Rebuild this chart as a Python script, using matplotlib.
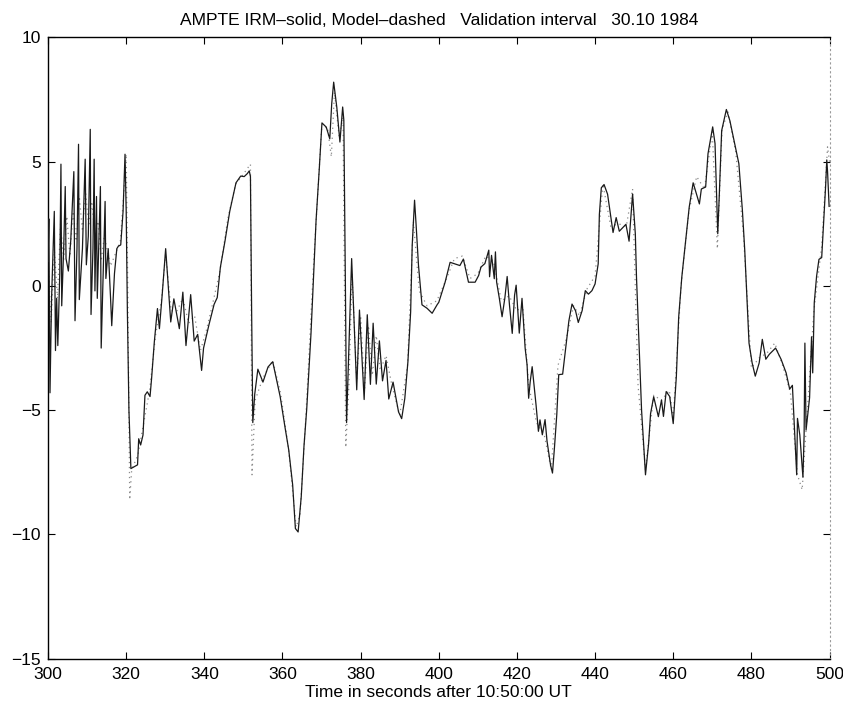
"""
AMPTE IRM magnetometer data vs. model, validation interval 30.10.1984.
"""

import matplotlib
matplotlib.use('Agg')  # Non-interactive backend
import matplotlib.pyplot as plt

# Axis ticks
x_ticks = [300, 320, 340, 360, 380, 400, 420, 440, 460, 480, 500]
y_ticks = [-15, -10, -5, 0, 5, 10]

irm_t_300 = [300.0, 300.2, 300.5, 300.9, 301.6, 301.9, 302.2, 302.5, 303.0, 303.3,
             303.5, 304.0, 304.4, 304.6, 305.2, 305.8, 306.6, 306.9, 307.4, 307.8,
             308.0, 308.8, 309.5, 309.8, 310.3, 310.8, 311.0, 311.5, 311.8, 312.0,
             312.4, 312.6, 313.4, 313.6, 314.2, 314.6, 314.8, 315.4, 316.0, 316.3,
             317.0, 317.6, 318.0, 318.6, 319.2, 319.7, 320.0, 320.3, 320.7, 321.2]
irm_v_300 = [1.0, 2.7, -4.3, -0.5, 3.0, -2.6, -0.5, -2.4, 0.5, 4.9,
             -0.8, 1.5, 4.0, 1.1, 0.6, 1.8, 4.6, -1.4, 1.5, 5.7,
             -0.55, 1.5, 5.1, 0.85, 2.0, 6.3, -1.15, 1.5, 5.1, -0.2,
             3.6, -0.5, 4.0, -2.5, 1.0, 3.4, 0.3, 1.5, -0.5, -1.6,
             0.5, 1.5, 1.6, 1.65, 3.0, 5.3, 3.0, -1.0, -5.0, -7.35]

irm_t_322 = [322.9, 323.2, 323.7, 324.3, 324.8, 325.4, 326.1, 326.5, 327.2, 328.0,
             328.5, 329.2, 330.1, 331.4, 332.2, 333.6, 334.5, 335.3, 336.5, 337.4,
             338.3, 339.3, 339.8, 341.2, 342.5, 343.3, 344.1, 345.3, 346.5, 348.1,
             349.3, 350.2, 351.0, 351.5, 351.8]
irm_v_322 = [-7.2, -6.15, -6.4, -6.0, -4.4, -4.26, -4.45, -3.72, -2.25, -0.91,
             -1.72, -0.38, 1.5, -1.45, -0.52, -1.72, -0.25, -2.4, -0.35, -2.22,
             -1.95, -3.4, -2.5, -1.55, -0.74, -0.47, 0.75, 1.82, 3.0, 4.15,
             4.42, 4.4, 4.52, 4.63, 4.4]

irm_t_352 = [352.1, 352.4, 352.9, 353.7, 355.0, 356.3, 357.5, 359.4, 360.7, 361.6,
             362.6, 363.3, 364.0, 364.8, 365.5, 366.2, 367.3, 368.6, 369.4, 370.1,
             371.2, 372.1, 372.6, 373.1, 373.9, 374.7, 375.4, 375.7]
irm_v_352 = [-1.0, -5.5, -4.35, -3.35, -3.87, -3.26, -3.05, -4.45, -5.74, -6.6,
             -8.0, -9.76, -9.9, -8.48, -6.45, -4.96, -1.9, 2.65, 4.67, 6.56,
             6.39, 5.92, 7.33, 8.2, 7.19, 5.79, 7.2, 6.67]

irm_t_376 = [376.1, 376.4, 377.7, 379.0, 379.7, 380.9, 381.7, 382.5, 383.2, 384.0,
             384.8, 385.6, 386.5, 387.2, 388.3, 389.7, 390.5, 391.3, 392.1, 392.8,
             393.2, 393.8, 394.2, 394.8, 395.7, 397.0, 398.3, 399.6]
irm_v_376 = [0.0, -5.5, 1.1, -4.18, -0.97, -4.57, -1.16, -3.96, -1.5, -3.95,
             -2.21, -3.82, -3.0, -4.55, -3.87, -5.07, -5.34, -4.53, -3.05, -1.04,
             1.64, 3.45, 2.45, 0.84, -0.76, -0.9, -1.1, -0.75]

irm_t_400 = [400.0, 401.6, 402.9, 404.2, 405.4, 406.3, 407.6, 409.3, 410.2, 410.8,
             411.8, 412.8, 413.0, 413.5, 414.2, 414.5, 414.8, 415.5, 416.2, 416.9,
             417.5, 418.1, 418.8, 419.4, 419.8, 420.6, 421.3, 422.1, 422.6, 423.0,
             423.4, 423.9, 424.9, 425.5, 425.9, 426.5, 427.2, 427.7, 428.6, 429.1,
             429.6, 430.2, 430.7, 431.7, 432.5, 433.3, 434.1, 435.0, 435.7, 436.7,
             437.5, 438.3, 439.2, 440.0, 440.8, 441.1, 441.6, 442.3, 443.2, 444.6,
             445.4, 446.2, 447.9, 448.7, 449.6, 450.3, 450.6, 451.9, 452.9]
irm_v_400 = [-0.66, 0.14, 0.95, 0.88, 0.82, 1.08, 0.15, 0.15, 0.42, 0.76,
             0.9, 1.44, 0.37, 1.23, 0.29, 1.37, 0.16, -0.5, -1.24, -0.5,
             0.38, -0.78, -1.91, -0.37, 0.03, -1.9, -0.5, -2.5, -3.18, -4.52,
             -3.85, -3.25, -4.8, -5.85, -5.39, -5.99, -5.38, -6.24, -7.2, -7.53,
             -6.52, -5.18, -3.57, -3.55, -2.48, -1.4, -0.73, -1.0, -1.47, -0.99,
             -0.19, -0.33, -0.19, 0.08, 0.89, 2.88, 3.95, 4.08, 3.69, 2.15,
             2.75, 2.2, 2.48, 1.8, 3.7, 2.1, 0.35, -5.0, -7.6]

irm_t_453 = [453.7, 454.2, 455.0, 456.2, 457.0, 457.5, 458.2, 459.1, 460.0, 460.8,
             461.4, 462.2, 463.1, 464.1, 465.1, 466.7, 467.2, 468.3, 468.9, 470.1,
             470.7, 471.4, 471.8, 472.4, 473.6, 474.5, 475.4, 476.8, 477.7, 478.3,
             479.4, 480.2, 481.0, 482.0, 482.8, 483.7, 484.6, 486.2, 487.6, 488.9,
             489.8, 490.5, 491.2, 491.6, 491.8, 492.4, 493.2, 493.5, 493.7, 494.0,
             494.9, 495.4, 495.7, 496.1, 496.7, 497.3, 498.0, 498.5, 499.0, 499.3,
             499.5, 499.9]
irm_v_453 = [-6.35, -5.14, -4.46, -5.26, -4.59, -5.25, -4.25, -4.45, -5.54, -3.65,
             -1.25, 0.36, 1.7, 3.18, 4.15, 3.3, 3.9, 3.98, 5.32, 6.4,
             5.73, 2.1, 3.7, 6.25, 7.1, 6.65, 5.98, 4.92, 3.05, 1.45,
             -2.3, -3.1, -3.63, -3.1, -2.15, -2.95, -2.75, -2.5, -2.95, -3.5,
             -4.15, -4.0, -6.3, -7.6, -5.33, -6.0, -7.7, -6.0, -2.3, -5.8,
             -4.5, -2.05, -3.5, -0.67, 0.4, 1.07, 1.14, 2.55, 4.0, 5.07,
             4.6, 3.2]

# Model (dashed), mostly hidden under the measurement
model_t_a = [300.0, 300.8, 301.6, 302.4, 303.2, 304.0, 304.8, 305.6, 306.4, 307.2,
             308.0, 308.8, 309.6, 310.4, 311.2, 312.0, 312.8, 313.6, 314.4, 315.2,
             316.0, 317.0, 318.5, 319.5, 320.0, 320.4, 320.9, 321.4, 323.0, 324.5,
             326.0, 327.5, 329.0, 330.1, 331.5, 333.0, 334.5, 336.0, 337.5, 339.0,
             340.5, 342.0, 344.0, 346.0, 348.0, 350.0, 351.8, 352.2, 353.0, 355.0,
             357.5, 359.5, 361.5, 363.5, 364.5, 366.0, 368.0, 370.0, 371.5, 372.5,
             373.3, 374.5, 375.5, 376.2]
model_v_a = [1.0, -1.5, 1.5, -0.5, 2.5, 1.0, 2.8, 1.2, 3.0, 1.8,
             3.6, 2.2, 3.8, 2.4, 3.4, 2.0, 2.6, 1.0, 2.0, 1.4,
             0.8, 1.2, 1.8, 4.0, 5.3, 0.0, -8.6, -7.4, -6.8, -5.5,
             -4.2, -2.0, -0.6, 1.3, -1.0, -1.0, -0.5, -1.5, -1.2, -2.6,
             -1.8, -0.8, 0.6, 2.7, 4.1, 4.5, 4.9, -7.6, -4.6, -3.7,
             -3.0, -4.3, -6.5, -9.7, -9.2, -5.2, 1.0, 6.3, 6.4, 5.2,
             7.8, 6.0, 6.8, -6.5]

model_t_b = [377.0, 377.8, 379.0, 380.0, 381.0, 382.0, 383.0, 384.0, 385.0, 386.5,
             388.0, 390.0, 392.0, 393.5, 395.0, 397.0, 399.5, 402.0, 404.0, 406.0,
             408.0, 410.0, 412.0, 414.0, 416.0, 418.0, 420.0, 421.5, 423.0, 425.0,
             427.0, 428.8, 430.5, 432.5, 434.5, 436.0, 438.0, 440.0, 442.0, 444.0,
             446.0, 448.0, 449.6, 451.0, 452.9, 455.0, 457.0, 459.0, 460.0, 462.0,
             464.0, 466.0, 468.0, 470.0, 471.3, 472.5, 474.0, 476.0, 478.0, 480.0,
             482.0, 484.0, 486.0, 488.0, 490.0, 491.8, 493.0, 494.5, 496.0, 498.0,
             499.5, 500.0]
model_v_b = [-4.0, 0.5, -3.8, -1.2, -4.2, -1.6, -3.6, -2.0, -3.4, -2.8,
             -4.0, -5.2, -3.2, 2.6, -0.2, -0.8, -0.6, 0.3, 1.1, 1.2,
             0.3, 0.5, 1.2, 1.0, -0.6, -0.4, -1.0, -0.8, -4.0, -5.5,
             -6.0, -7.4, -3.2, -2.2, -0.8, -1.2, -0.1, 0.4, 4.1, 2.4,
             2.5, 2.4, 3.9, -4.0, -7.4, -4.4, -4.6, -4.2, -5.3, 0.0,
             3.0, 4.4, 3.9, 6.2, 1.5, 6.3, 7.0, 5.4, 2.0, -3.3,
             -2.9, -2.7, -2.3, -3.2, -4.3, -7.6, -8.2, -4.6, -1.0, 1.6,
             5.6, 5.0]


def main():
    plt.rcParams['font.family'] = ['Liberation Sans', 'DejaVu Sans']

    irm_t = irm_t_300 + irm_t_322 + irm_t_352 + irm_t_376 + irm_t_400 + irm_t_453
    irm_v = irm_v_300 + irm_v_322 + irm_v_352 + irm_v_376 + irm_v_400 + irm_v_453
    model_t = model_t_a + model_t_b
    model_v = model_v_a + model_v_b

    fig = plt.figure(figsize=(8.43, 7.06), dpi=100)
    ax = fig.add_axes([0.057, 0.067, 0.927, 0.880])

    # model first (dotted), then measurement on top
    ax.plot(model_t, model_v, color='#8a8a8a', linewidth=0.9,
            linestyle=(0, (1, 3)), zorder=2)
    ax.plot(irm_t, irm_v, color='#1a1a1a', linewidth=0.9, zorder=3)

    ax.set_xlim(300, 500)
    ax.set_ylim(-15, 10)
    ax.set_xticks(x_ticks)
    ax.set_yticks(y_ticks)
    ax.tick_params(direction='in', length=5, width=0.8, labelsize=12.5,
                   top=True, right=True, pad=6)
    ax.tick_params(axis='y', pad=5)

    for side in ('left', 'bottom', 'top'):
        ax.spines[side].set_linewidth(1.0)
    ax.spines['right'].set_linestyle((0, (1, 3)))
    ax.spines['right'].set_color('#9a9a9a')

    ax.set_title("AMPTE IRM\u2013solid, Model\u2013dashed   Validation interval   30.10 1984",
                 fontsize=12.5, pad=9)
    ax.set_xlabel("Time in seconds after 10:50:00 UT", fontsize=12.5, labelpad=2)

    fig.savefig('out.png', dpi=100)
    plt.close(fig)


if __name__ == "__main__":
    main()
